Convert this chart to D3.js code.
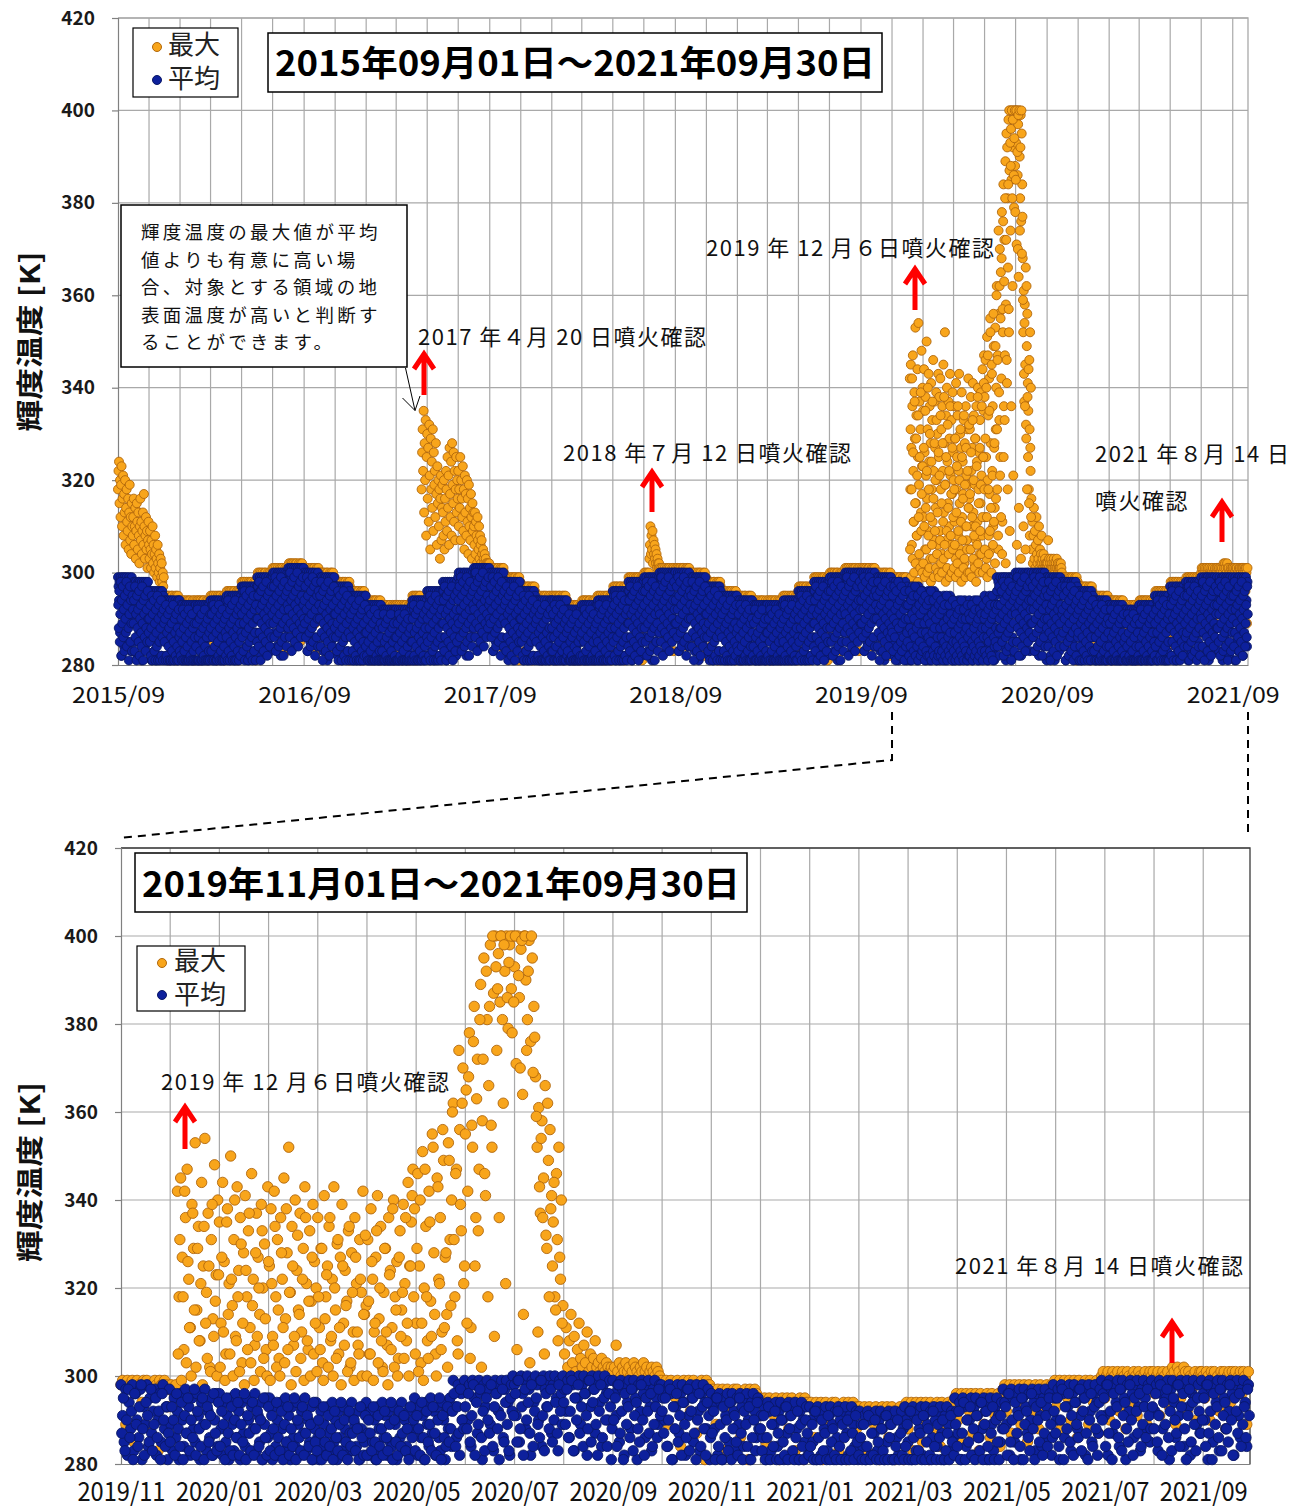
<!DOCTYPE html>
<html lang="ja">
<head>
<meta charset="utf-8">
<title>輝度温度</title>
<script src="https://cdn.jsdelivr.net/npm/d3@7"></script>
<style>
  body { margin: 0; background: #fff; }
  svg text { font-family: "Noto Sans CJK JP", sans-serif; }
</style>
</head>
<body>
<svg id="chart" width="1293" height="1508"></svg>
<script>
// 平均 (mean brightness temperature, K), first reading of each day – one line per month
const avg2015 = [
  299,297,294,298,287,299,296,282,298,299,291,297,284,299,295,298,289,299,297,293,285,298,299,296,290,298,283,299,297,292,
  297,298,294,285,296,298,291,297,282,295,298,296,287,298,293,297,281,298,295,289,297,298,292,284,296,298,297,286,294,298,290,
  296,293,295,287,296,281,294,296,290,295,283,296,292,294,281,296,295,288,293,296,285,295,291,296,282,294,296,289,295,286,
  294,292,289,293,282,294,291,281,293,294,286,292,281,294,290,293,284,294,292,288,281,293,294,291,285,293,281,294,292,287,294
];
const avg2016 = [
  292,293,289,281,291,293,286,292,281,290,293,291,282,293,288,292,281,293,290,284,292,293,287,281,291,293,292,281,289,293,285,
  293,290,292,284,293,281,291,293,287,292,281,293,289,291,281,293,292,285,290,293,282,292,288,293,281,291,293,286,292,
  294,292,289,293,282,294,291,281,293,294,286,292,281,294,290,293,284,294,292,288,281,293,294,291,285,293,281,294,292,287,294,
  294,295,291,282,293,295,288,294,281,292,295,293,284,295,290,294,281,295,292,286,294,295,289,281,293,295,294,283,291,295,
  297,294,296,288,297,282,295,297,291,296,284,297,293,295,281,297,296,289,294,297,286,296,292,297,283,295,297,290,296,287,297,
  299,297,294,298,287,299,296,282,298,299,291,297,284,299,295,298,289,299,297,293,285,298,299,296,290,298,283,299,297,292,
  299,300,296,287,298,300,293,299,284,297,300,298,289,300,295,299,282,300,297,291,299,300,294,286,298,300,299,288,296,300,292,
  301,298,300,292,301,286,299,301,295,300,288,301,297,299,284,301,300,293,298,301,290,300,296,301,287,299,301,294,300,291,301,
  300,298,295,299,288,300,297,283,299,300,292,298,285,300,296,299,290,300,298,294,286,299,300,297,291,299,284,300,298,293,
  298,299,295,286,297,299,292,298,283,296,299,297,288,299,294,298,281,299,296,290,298,299,293,285,297,299,298,287,295,299,291,
  297,294,296,288,297,282,295,297,291,296,284,297,293,295,281,297,296,289,294,297,286,296,292,297,283,295,297,290,296,287,
  295,293,290,294,283,295,292,281,294,295,287,293,281,295,291,294,285,295,293,289,281,294,295,292,286,294,281,295,293,288,295
];
const avg2017 = [
  292,293,289,281,291,293,286,292,281,290,293,291,282,293,288,292,281,293,290,284,292,293,287,281,291,293,292,281,289,293,285,
  292,289,291,283,292,281,290,292,286,291,281,292,288,290,281,292,291,284,289,292,281,291,287,292,281,290,292,285,
  292,290,287,291,281,292,289,281,291,292,284,290,281,292,288,291,282,292,290,286,281,291,292,289,283,291,281,292,290,285,292,
  293,294,290,281,292,294,287,293,281,291,294,292,283,294,289,293,281,294,291,285,293,294,288,281,292,294,293,282,290,294,
  296,293,295,287,296,281,294,296,290,295,283,296,292,294,281,296,295,288,293,296,285,295,291,296,282,294,296,289,295,286,296,
  298,296,293,297,286,298,295,281,297,298,290,296,283,298,294,297,288,298,296,292,284,297,298,295,289,297,282,298,296,291,
  299,300,296,287,298,300,293,299,284,297,300,298,289,300,295,299,282,300,297,291,299,300,294,286,298,300,299,288,296,300,292,
  301,298,300,292,301,286,299,301,295,300,288,301,297,299,284,301,300,293,298,301,290,300,296,301,287,299,301,294,300,291,301,
  300,298,295,299,288,300,297,283,299,300,292,298,285,300,296,299,290,300,298,294,286,299,300,297,291,299,284,300,298,293,
  297,298,294,285,296,298,291,297,282,295,298,296,287,298,293,297,281,298,295,289,297,298,292,284,296,298,297,286,294,298,290,
  296,293,295,287,296,281,294,296,290,295,283,296,292,294,281,296,295,288,293,296,285,295,291,296,282,294,296,289,295,286,
  294,292,289,293,282,294,291,281,293,294,286,292,281,294,290,293,284,294,292,288,281,293,294,291,285,293,281,294,292,287,294
];
const avg2018 = [
  293,294,290,281,292,294,287,293,281,291,294,292,283,294,289,293,281,294,291,285,293,294,288,281,292,294,293,282,290,294,286,
  292,289,291,283,292,281,290,292,286,291,281,292,288,290,281,292,291,284,289,292,281,291,287,292,281,290,292,285,
  293,291,288,292,281,293,290,281,292,293,285,291,281,293,289,292,283,293,291,287,281,292,293,290,284,292,281,293,291,286,293,
  293,294,290,281,292,294,287,293,281,291,294,292,283,294,289,293,281,294,291,285,293,294,288,281,292,294,293,282,290,294,
  296,293,295,287,296,281,294,296,290,295,283,296,292,294,281,296,295,288,293,296,285,295,291,296,282,294,296,289,295,286,296,
  298,296,293,297,286,298,295,281,297,298,290,296,283,298,294,297,288,298,296,292,284,297,298,295,289,297,282,298,296,291,
  298,299,295,286,297,299,292,298,283,296,299,297,288,299,294,298,281,299,296,290,298,299,293,285,297,299,298,287,295,299,291,
  300,297,299,291,300,285,298,300,294,299,287,300,296,298,283,300,299,292,297,300,289,299,295,300,286,298,300,293,299,290,300,
  300,298,295,299,288,300,297,283,299,300,292,298,285,300,296,299,290,300,298,294,286,299,300,297,291,299,284,300,298,293,
  298,299,295,286,297,299,292,298,283,296,299,297,288,299,294,298,281,299,296,290,298,299,293,285,297,299,298,287,295,299,291,
  297,294,296,288,297,282,295,297,291,296,284,297,293,295,281,297,296,289,294,297,286,296,292,297,283,295,297,290,296,287,
  295,293,290,294,283,295,292,281,294,295,287,293,281,295,291,294,285,295,293,289,281,294,295,292,286,294,281,295,293,288,295
];
const avg2019 = [
  293,294,290,281,292,294,287,293,281,291,294,292,283,294,289,293,281,294,291,285,293,294,288,281,292,294,293,282,290,294,286,
  293,290,292,284,293,281,291,293,287,292,281,293,289,291,281,293,292,285,290,293,282,292,288,293,281,291,293,286,
  293,291,288,292,281,293,290,281,292,293,285,291,281,293,289,292,283,293,291,287,281,292,293,290,284,292,281,293,291,286,293,
  293,294,290,281,292,294,287,293,281,291,294,292,283,294,289,293,281,294,291,285,293,294,288,281,292,294,293,282,290,294,
  296,293,295,287,296,281,294,296,290,295,283,296,292,294,281,296,295,288,293,296,285,295,291,296,282,294,296,289,295,286,296,
  298,296,293,297,286,298,295,281,297,298,290,296,283,298,294,297,288,298,296,292,284,297,298,295,289,297,282,298,296,291,
  298,299,295,286,297,299,292,298,283,296,299,297,288,299,294,298,281,299,296,290,298,299,293,285,297,299,298,287,295,299,291,
  300,297,299,291,300,285,298,300,294,299,287,300,296,298,283,300,299,292,297,300,289,299,295,300,286,298,300,293,299,290,300,
  300,298,295,299,288,300,297,283,299,300,292,298,285,300,296,299,290,300,298,294,286,299,300,297,291,299,284,300,298,293,
  298,299,295,286,297,299,292,298,283,296,299,297,288,299,294,298,281,299,296,290,298,299,293,285,297,299,298,287,295,299,291,
  298,291,285,297,282,294,288,298,283,296,290,286,297,281,293,289,298,284,295,287,292,297,282,290,296,285,298,288,293,281,
  297,289,283,295,286,292,281,296,290,284,297,287,293,282,295,288,285,296,291,281,294,289,297,283,292,286,295,282,290,296,284
];
const avg2020 = [
  296,288,282,294,285,291,281,295,289,283,296,286,292,281,294,287,284,295,290,282,293,288,296,283,291,285,294,281,289,295,286,
  295,287,281,293,284,290,282,294,288,283,295,285,291,281,293,286,284,294,289,282,292,287,295,283,290,285,293,281,288,
  294,286,281,292,284,289,282,293,287,283,294,285,290,281,292,286,283,293,288,282,291,287,294,283,289,284,292,281,288,293,285,
  294,287,282,292,285,290,281,293,288,283,294,286,291,282,292,285,284,293,289,281,291,286,294,283,290,284,292,282,288,293,
  295,288,282,293,286,291,281,294,289,284,295,287,292,282,293,286,283,294,290,281,292,288,295,284,299,293,286,298,282,296,290,
  299,297,290,298,284,299,295,298,287,299,296,281,298,293,299,297,289,298,283,299,296,292,298,299,286,297,299,294,282,298,
  300,298,291,299,285,300,296,299,288,300,297,282,299,294,300,298,290,299,284,300,297,293,299,300,287,298,300,295,283,299,296,
  300,297,292,299,286,300,298,283,299,295,300,289,298,300,296,282,299,293,300,297,287,299,300,294,284,298,300,296,290,299,281,
  299,296,291,298,285,299,297,282,298,294,299,288,297,299,295,281,298,292,299,296,286,298,299,293,283,297,299,295,289,298,
  298,295,290,297,284,298,296,281,297,293,298,287,296,298,294,282,297,291,298,295,285,297,298,292,283,296,298,294,288,297,281,
  296,293,288,295,282,296,294,281,295,291,296,285,294,296,292,283,295,289,296,293,284,295,296,290,281,294,296,292,286,295,
  294,291,286,293,281,294,292,283,293,289,294,284,292,294,290,281,293,287,294,291,282,293,294,288,281,292,294,290,285,293,282
];
const avg2021 = [
  293,290,285,292,281,293,291,282,292,288,293,283,291,293,289,281,292,286,293,290,281,292,293,287,282,291,293,289,284,292,281,
  292,289,284,291,281,292,290,282,291,287,292,283,290,292,288,281,291,285,292,289,281,291,292,286,282,290,292,288,
  293,290,285,292,281,293,291,283,292,288,293,282,291,293,289,281,292,286,293,290,284,292,293,287,281,291,293,289,283,292,286,
  295,292,287,294,281,295,293,284,294,290,295,282,293,295,291,286,294,288,295,292,281,294,295,289,283,293,295,291,285,294,
  297,294,289,296,282,297,295,285,296,292,297,281,295,297,293,287,296,290,297,294,283,296,297,291,284,295,297,293,286,296,282,
  298,295,290,297,281,298,296,286,297,293,298,283,296,298,294,288,297,291,298,295,282,297,298,292,285,296,298,294,287,297,
  299,296,291,298,282,299,297,287,298,294,299,284,297,299,295,281,298,292,299,296,286,298,299,293,283,297,299,295,288,298,285,
  299,297,292,298,283,299,296,288,298,295,299,281,297,299,294,286,298,291,299,297,284,298,299,293,282,296,299,295,289,298,287,
  299,296,290,298,281,299,297,285,298,294,299,283,297,299,295,288,298,292,299,296,282,298,299,291,286,297,299,294,284,298
];

// 平均, second (midday) reading of each day
const avgNoon2015 = [
  293,288,296,285,291,298,282,294,289,297,286,292,283,295,290,287,298,284,293,296,288,281,291,297,285,294,289,283,295,292,
  289,294,283,297,286,291,281,295,288,292,285,296,282,290,293,287,284,297,289,281,294,291,286,295,283,288,292,285,296,290,287,
  290,285,293,282,288,295,281,291,286,294,283,289,281,292,287,284,295,281,290,293,285,281,288,294,282,291,286,281,292,289,
  285,290,281,293,282,287,281,291,284,288,281,292,281,286,289,283,281,293,285,281,290,287,282,291,281,284,288,281,292,286,283
];
const avgNoon2016 = [
  287,282,290,281,285,292,281,288,283,291,281,286,281,289,284,281,292,281,287,290,282,281,285,291,281,288,283,281,289,286,281,
  284,289,281,292,281,286,281,290,283,287,281,291,281,285,288,282,281,292,284,281,289,286,281,290,281,283,287,281,291,
  288,283,291,281,286,293,281,289,284,292,281,287,281,290,285,282,293,281,288,291,283,281,286,292,281,289,284,281,290,287,282,
  286,291,281,294,283,288,281,292,285,289,282,293,281,287,290,284,281,294,286,281,291,288,283,292,281,285,289,282,293,287,
  291,286,294,283,289,296,281,292,287,295,284,290,281,293,288,285,296,282,291,294,286,281,289,295,283,292,287,281,293,290,285,
  290,295,284,298,287,292,281,296,289,293,286,297,283,291,294,288,285,298,290,282,295,292,287,296,284,289,293,286,297,291,
  294,289,297,286,292,299,283,295,290,298,287,293,284,296,291,288,299,285,294,297,289,282,292,298,286,295,290,284,296,293,288,
  292,297,286,300,289,294,283,298,291,295,288,299,285,293,296,290,287,300,292,284,297,294,289,298,286,291,295,288,299,293,290,
  294,289,297,286,292,299,283,295,290,298,287,293,284,296,291,288,299,285,294,297,289,282,292,298,286,295,290,284,296,293,
  290,295,284,298,287,292,281,296,289,293,286,297,283,291,294,288,285,298,290,282,295,292,287,296,284,289,293,286,297,291,288,
  291,286,294,283,289,296,281,292,287,295,284,290,281,293,288,285,296,282,291,294,286,281,289,295,283,292,287,281,293,290,
  286,291,281,294,283,288,281,292,285,289,282,293,281,287,290,284,281,294,286,281,291,288,283,292,281,285,289,282,293,287,284
];
const avgNoon2017 = [
  287,282,290,281,285,292,281,288,283,291,281,286,281,289,284,281,292,281,287,290,282,281,285,291,281,288,283,281,289,286,281,
  283,288,281,291,281,285,281,289,282,286,281,290,281,284,287,281,281,291,283,281,288,285,281,289,281,282,286,281,
  286,281,289,281,284,291,281,287,282,290,281,285,281,288,283,281,291,281,286,289,281,281,284,290,281,287,282,281,288,285,281,
  285,290,281,293,282,287,281,291,284,288,281,292,281,286,289,283,281,293,285,281,290,287,282,291,281,284,288,281,292,286,
  290,285,293,282,288,295,281,291,286,294,283,289,281,292,287,284,295,281,290,293,285,281,288,294,282,291,286,281,292,289,284,
  289,294,283,297,286,291,281,295,288,292,285,296,282,290,293,287,284,297,289,281,294,291,286,295,283,288,292,285,296,290,
  294,289,297,286,292,299,283,295,290,298,287,293,284,296,291,288,299,285,294,297,289,282,292,298,286,295,290,284,296,293,288,
  292,297,286,300,289,294,283,298,291,295,288,299,285,293,296,290,287,300,292,284,297,294,289,298,286,291,295,288,299,293,290,
  294,289,297,286,292,299,283,295,290,298,287,293,284,296,291,288,299,285,294,297,289,282,292,298,286,295,290,284,296,293,
  289,294,283,297,286,291,281,295,288,292,285,296,282,290,293,287,284,297,289,281,294,291,286,295,283,288,292,285,296,290,287,
  290,285,293,282,288,295,281,291,286,294,283,289,281,292,287,284,295,281,290,293,285,281,288,294,282,291,286,281,292,289,
  285,290,281,293,282,287,281,291,284,288,281,292,281,286,289,283,281,293,285,281,290,287,282,291,281,284,288,281,292,286,283
];
const avgNoon2018 = [
  288,283,291,281,286,293,281,289,284,292,281,287,281,290,285,282,293,281,288,291,283,281,286,292,281,289,284,281,290,287,282,
  283,288,281,291,281,285,281,289,282,286,281,290,281,284,287,281,281,291,283,281,288,285,281,289,281,282,286,281,
  287,282,290,281,285,292,281,288,283,291,281,286,281,289,284,281,292,281,287,290,282,281,285,291,281,288,283,281,289,286,281,
  285,290,281,293,282,287,281,291,284,288,281,292,281,286,289,283,281,293,285,281,290,287,282,291,281,284,288,281,292,286,
  290,285,293,282,288,295,281,291,286,294,283,289,281,292,287,284,295,281,290,293,285,281,288,294,282,291,286,281,292,289,284,
  289,294,283,297,286,291,281,295,288,292,285,296,282,290,293,287,284,297,289,281,294,291,286,295,283,288,292,285,296,290,
  293,288,296,285,291,298,282,294,289,297,286,292,283,295,290,287,298,284,293,296,288,281,291,297,285,294,289,283,295,292,287,
  291,296,285,299,288,293,282,297,290,294,287,298,284,292,295,289,286,299,291,283,296,293,288,297,285,290,294,287,298,292,289,
  294,289,297,286,292,299,283,295,290,298,287,293,284,296,291,288,299,285,294,297,289,282,292,298,286,295,290,284,296,293,
  290,295,284,298,287,292,281,296,289,293,286,297,283,291,294,288,285,298,290,282,295,292,287,296,284,289,293,286,297,291,288,
  291,286,294,283,289,296,281,292,287,295,284,290,281,293,288,285,296,282,291,294,286,281,289,295,283,292,287,281,293,290,
  286,291,281,294,283,288,281,292,285,289,282,293,281,287,290,284,281,294,286,281,291,288,283,292,281,285,289,282,293,287,284
];
const avgNoon2019 = [
  288,283,291,281,286,293,281,289,284,292,281,287,281,290,285,282,293,281,288,291,283,281,286,292,281,289,284,281,290,287,282,
  284,289,281,292,281,286,281,290,283,287,281,291,281,285,288,282,281,292,284,281,289,286,281,290,281,283,287,281,
  287,282,290,281,285,292,281,288,283,291,281,286,281,289,284,281,292,281,287,290,282,281,285,291,281,288,283,281,289,286,281,
  285,290,281,293,282,287,281,291,284,288,281,292,281,286,289,283,281,293,285,281,290,287,282,291,281,284,288,281,292,286,
  290,285,293,282,288,295,281,291,286,294,283,289,281,292,287,284,295,281,290,293,285,281,288,294,282,291,286,281,292,289,284,
  289,294,283,297,286,291,281,295,288,292,285,296,282,290,293,287,284,297,289,281,294,291,286,295,283,288,292,285,296,290,
  293,288,296,285,291,298,282,294,289,297,286,292,283,295,290,287,298,284,293,296,288,281,291,297,285,294,289,283,295,292,287,
  291,296,285,299,288,293,282,297,290,294,287,298,284,292,295,289,286,299,291,283,296,293,288,297,285,290,294,287,298,292,289,
  294,289,297,286,292,299,283,295,290,298,287,293,284,296,291,288,299,285,294,297,289,282,292,298,286,295,290,284,296,293,
  290,295,284,298,287,292,281,296,289,293,286,297,283,291,294,288,285,298,290,282,295,292,287,296,284,289,293,286,297,291,288,
  287,295,283,290,297,286,292,281,296,289,284,293,298,288,282,294,291,285,297,283,289,295,286,292,281,296,290,284,293,287,
  285,293,290,282,296,288,284,294,281,291,287,295,283,290,286,297,282,292,288,284,295,281,289,293,285,291,282,296,287,283,294
];
const avgNoon2020 = [
  284,292,289,281,295,287,283,293,282,290,286,294,282,289,285,296,281,291,287,283,294,282,288,292,284,290,281,295,286,282,293,
  283,291,288,282,294,286,283,292,281,289,285,293,282,288,284,295,281,290,286,283,293,282,287,291,284,289,281,294,285,
  283,290,287,281,293,285,282,291,284,288,281,292,286,283,289,294,282,290,285,281,292,284,287,290,283,288,281,293,286,282,291,
  282,290,287,283,293,285,281,291,284,288,282,292,286,283,289,294,281,290,285,282,292,284,287,291,283,288,281,293,286,290,
  283,291,288,282,294,286,281,292,285,289,283,293,287,282,290,295,281,291,286,284,293,285,288,292,296,284,293,287,297,290,288,
  293,288,296,285,291,298,282,294,289,297,286,292,283,295,290,287,298,284,293,296,288,281,291,297,285,294,289,283,295,292,
  291,296,285,299,288,293,282,297,290,294,287,298,284,292,295,289,286,299,291,283,296,293,288,297,285,290,294,287,298,292,289,
  294,289,297,286,292,299,283,295,290,298,287,293,284,296,291,288,299,285,294,297,289,282,292,298,286,295,290,284,296,293,288,
  290,295,284,298,287,292,281,296,289,293,286,297,283,291,294,288,285,298,290,282,295,292,287,296,284,289,293,286,297,291,
  292,287,295,284,290,297,281,293,288,296,285,291,282,294,289,286,297,283,292,295,287,281,290,296,284,293,288,282,294,291,286,
  287,292,281,295,284,289,281,293,286,290,283,294,281,288,291,285,282,295,287,281,292,289,284,293,281,286,290,283,294,288,
  288,283,291,281,286,293,281,289,284,292,281,287,281,290,285,282,293,281,288,291,283,281,286,292,281,289,284,281,290,287,282
];
const avgNoon2021 = [
  284,289,281,292,281,286,281,290,283,287,281,291,281,285,288,282,281,292,284,281,289,286,281,290,281,283,287,281,291,285,282,
  286,281,289,281,284,291,281,287,282,290,281,285,281,288,283,281,291,281,286,289,281,281,284,290,281,287,282,281,
  284,289,281,292,281,286,281,290,283,287,281,291,281,285,288,282,281,292,284,281,289,286,281,290,281,283,287,281,291,285,282,
  289,284,292,281,287,294,281,290,285,293,282,288,281,291,286,283,294,281,289,292,284,281,287,293,281,290,285,281,291,288,
  288,293,282,296,285,290,281,294,287,291,284,295,281,289,292,286,283,296,288,281,293,290,285,294,282,287,291,284,295,289,286,
  292,287,295,284,290,297,281,293,288,296,285,291,282,294,289,286,297,283,292,295,287,281,290,296,284,293,288,282,294,291,
  290,295,284,298,287,292,281,296,289,293,286,297,283,291,294,288,285,298,290,282,295,292,287,296,284,289,293,286,297,291,288,
  293,288,296,285,291,298,282,294,289,297,286,292,283,295,290,287,298,284,293,296,288,281,291,297,285,294,289,283,295,292,287,
  290,295,284,298,287,292,281,296,289,293,286,297,283,291,294,288,285,298,290,282,295,292,287,296,284,289,293,286,297,291
];

// 最大 (maximum brightness temperature, K), one reading per day
const max2015 = [
  318,322,324,315,320,312,319,323,310,316,321,308,317,313,320,306,314,318,311,309,316,305,313,319,307,312,304,315,310,308,
  312,316,306,310,314,303,309,315,311,305,313,308,302,310,316,307,311,304,309,313,306,317,310,303,308,312,305,309,301,307,311,
  306,303,309,305,301,307,304,310,302,306,300,304,308,301,305,303,299,306,302,300,304,298,301,303,299,302,298,300,297,299,
  294,295,294,287,295,294,294,295,281,294,295,294,294,290,295,294,295,294,284,294,294,295,294,281,295,294,294,295,294,289,294
];
const max2016 = [
  294,293,293,294,284,293,294,293,293,290,294,293,281,293,294,293,293,294,287,293,294,293,282,293,293,294,293,281,294,293,293,
  293,294,293,286,294,293,293,294,281,293,294,293,293,289,294,293,294,293,283,293,293,294,293,281,294,293,293,294,293,
  295,294,294,295,285,294,295,294,294,291,295,294,281,294,295,294,294,295,288,294,295,294,283,294,294,295,294,281,295,294,294,
  295,296,295,288,296,295,295,296,282,295,296,295,295,291,296,295,296,295,285,295,295,296,295,281,296,295,295,296,295,290,
  298,297,297,298,288,297,298,297,297,294,298,297,283,297,298,297,297,298,291,297,298,297,286,297,297,298,297,281,298,297,297,
  299,300,299,292,300,299,299,300,286,299,300,299,299,295,300,299,300,299,289,299,299,300,299,283,300,299,299,300,299,294,
  301,300,300,301,291,300,301,300,300,297,301,300,286,300,301,300,300,301,294,300,301,300,289,300,300,301,300,283,301,300,300,
  301,302,301,294,302,301,301,302,288,301,302,301,301,297,302,301,302,301,291,301,301,302,301,285,302,301,301,302,301,296,301,
  301,300,300,301,291,300,301,300,300,297,301,300,286,300,301,300,300,301,294,300,301,300,289,300,300,301,300,283,301,300,
  299,300,299,292,300,299,299,300,286,299,300,299,299,295,300,299,300,299,289,299,299,300,299,283,300,299,299,300,299,294,299,
  298,297,297,298,288,297,298,297,297,294,298,297,283,297,298,297,297,298,291,297,298,297,286,297,297,298,297,281,298,297,
  295,296,295,288,296,295,295,296,282,295,296,295,295,291,296,295,296,295,285,295,295,296,295,281,296,295,295,296,295,290,295
];
const max2017 = [
  294,293,293,294,284,293,294,293,293,290,294,293,281,293,294,293,293,294,287,293,294,293,282,293,293,294,293,281,294,293,293,
  292,293,292,285,293,292,292,293,281,292,293,292,292,288,293,292,293,292,282,292,292,293,292,281,293,292,292,293,
  293,292,292,293,283,292,293,292,292,289,293,292,281,292,293,292,292,293,286,292,293,292,281,292,292,293,292,281,293,292,292,
  294,295,294,287,295,294,294,295,281,294,295,294,294,290,295,294,295,294,284,318,326,331,322,335,313,328,320,333,308,325,
  330,316,327,311,332,321,305,329,318,324,314,331,309,326,319,322,312,328,317,306,323,315,320,310,318,303,316,321,307,314,319,
  313,308,320,305,316,311,322,318,309,325,314,321,306,327,317,312,324,308,328,319,315,326,311,322,307,318,325,313,320,316,
  322,310,318,314,325,307,320,316,312,323,309,318,305,321,313,317,308,320,311,316,304,319,310,314,307,317,312,303,315,309,313,
  310,306,313,304,311,308,302,312,307,305,310,303,308,306,302,307,304,301,305,303,302,304,301,303,302,301,302,301,302,301,302,
  300,301,300,293,301,300,300,301,287,300,301,300,300,296,301,300,301,300,290,300,300,301,300,284,301,300,300,301,300,295,
  299,298,298,299,289,298,299,298,298,295,299,298,284,298,299,298,298,299,292,298,299,298,287,298,298,299,298,281,299,298,298,
  296,297,296,289,297,296,296,297,283,296,297,296,296,292,297,296,297,296,286,296,296,297,296,281,297,296,296,297,296,291,
  295,294,294,295,285,294,295,294,294,291,295,294,281,294,295,294,294,295,288,294,295,294,283,294,294,295,294,281,295,294,294
];
const max2018 = [
  294,295,294,287,295,294,294,295,281,294,295,294,294,290,295,294,295,294,284,294,294,295,294,281,295,294,294,295,294,289,294,
  293,292,292,293,283,292,293,292,292,289,293,292,281,292,293,292,292,293,286,292,293,292,281,292,292,293,292,281,
  293,294,293,286,294,293,293,294,281,293,294,293,293,289,294,293,294,293,283,293,293,294,293,281,294,293,293,294,293,288,293,
  295,294,294,295,285,294,295,294,294,291,295,294,281,294,295,294,294,295,288,294,295,294,283,294,294,295,294,281,295,294,
  296,297,296,289,297,296,296,297,283,296,297,296,296,292,297,296,297,296,286,296,296,297,296,281,297,296,296,297,296,291,296,
  299,298,298,299,289,298,299,298,298,295,299,298,284,298,299,298,298,299,292,298,299,298,287,298,298,299,298,281,299,298,
  299,300,299,292,300,299,299,300,286,299,300,303,306,310,304,308,305,309,302,307,304,306,303,305,302,304,301,303,302,301,302,
  301,300,300,301,291,300,301,300,300,297,301,300,286,300,301,300,300,301,294,300,301,300,289,300,300,301,300,283,301,300,300,
  300,301,300,293,301,300,300,301,287,300,301,300,300,296,301,300,301,300,290,300,300,301,300,284,301,300,300,301,300,295,
  300,299,299,300,290,299,300,299,299,296,300,299,285,299,300,299,299,300,293,299,300,299,288,299,299,300,299,282,300,299,299,
  297,298,297,290,298,297,297,298,284,297,298,297,297,293,298,297,298,297,287,297,297,298,297,281,298,297,297,298,297,292,
  296,295,295,296,286,295,296,295,295,292,296,295,281,295,296,295,295,296,289,295,296,295,284,295,295,296,295,281,296,295,295
];
const max2019 = [
  294,295,294,287,295,294,294,295,281,294,295,294,294,290,295,294,295,294,284,294,294,295,294,281,295,294,294,295,294,289,294,
  294,293,293,294,284,293,294,293,293,290,294,293,281,293,294,293,293,294,287,293,294,293,282,293,293,294,293,281,
  293,294,293,286,294,293,293,294,281,293,294,293,293,289,294,293,294,293,283,293,293,294,293,281,294,293,293,294,293,288,293,
  295,294,294,295,285,294,295,294,294,291,295,294,281,294,295,294,294,295,288,294,295,294,283,294,294,295,294,281,295,294,
  296,297,296,289,297,296,296,297,283,296,297,296,296,292,297,296,297,296,286,296,296,297,296,281,297,296,296,297,296,291,296,
  299,298,298,299,289,298,299,298,298,295,299,298,284,298,299,298,298,299,292,298,299,298,287,298,298,299,298,281,299,298,
  299,300,299,292,300,299,299,300,286,299,300,299,299,295,300,299,300,299,289,299,299,300,299,283,300,299,299,300,299,294,299,
  301,300,300,301,291,300,301,300,300,297,301,300,286,300,301,300,300,301,294,300,301,300,289,300,300,301,300,283,301,300,300,
  300,301,300,293,301,300,300,301,287,300,301,300,300,296,301,300,301,300,290,300,300,301,300,284,301,300,300,301,300,295,
  300,299,299,300,290,299,300,299,299,296,300,299,285,299,300,299,299,300,293,299,300,299,288,299,299,300,299,282,300,299,299,
  298,299,298,289,299,298,298,299,285,298,299,298,298,294,299,298,299,298,288,298,298,299,298,283,299,298,298,299,298,293,
  297,298,297,296,298,342,318,345,327,306,336,347,322,311,339,329,353,315,334,308,344,325,354,319,337,302,331,313,348,323,340
];
const max2020 = [
  335,312,344,326,305,338,321,350,316,331,309,343,324,336,303,328,341,318,333,311,346,322,307,337,327,314,339,320,330,306,343,
  325,338,309,342,318,331,304,336,322,345,313,328,352,319,334,307,340,324,315,337,310,329,343,321,306,333,317,339,326,
  320,336,311,329,303,341,318,325,334,308,322,343,315,330,305,327,339,312,324,317,333,302,328,310,336,321,307,331,319,342,314,
  316,331,305,338,322,310,327,341,313,334,302,319,329,307,336,324,311,340,318,326,304,333,315,339,321,308,344,325,335,347,
  338,312,346,325,303,351,320,334,308,342,317,355,328,305,345,322,336,310,349,327,314,353,331,340,362,318,347,305,356,333,370,
  325,365,342,378,311,352,384,336,372,347,389,358,395,341,381,366,398,352,387,400,374,396,385,400,362,392,400,379,398,388,
  400,393,371,400,386,397,364,400,390,381,399,376,395,384,368,352,361,337,358,345,366,329,349,356,341,335,318,346,308,327,340,
  316,305,311,302,308,314,303,309,301,306,312,304,302,307,303,310,301,305,302,304,308,302,303,301,304,302,301,303,302,301,302,
  301,302,307,301,303,300,302,301,303,301,302,300,301,303,302,301,300,302,301,303,301,302,300,301,302,301,300,302,301,300,
  299,298,298,299,289,298,299,298,298,295,299,298,284,298,299,298,298,299,292,298,299,298,287,298,298,299,298,281,299,298,298,
  296,297,296,289,297,296,296,297,283,296,297,296,296,292,297,296,297,296,286,296,296,297,296,281,297,296,296,297,296,291,
  295,294,294,295,285,294,295,294,294,291,295,294,281,294,295,294,294,295,288,294,295,294,283,294,294,295,294,281,295,294,294
];
const max2021 = [
  293,294,293,286,294,293,293,294,281,293,294,293,293,289,294,293,294,293,283,293,293,294,293,281,294,293,293,294,293,288,293,
  293,292,292,293,283,292,293,292,292,289,293,292,281,292,293,292,292,293,286,292,293,292,281,292,292,293,292,281,
  293,294,288,293,294,283,293,294,293,290,294,285,293,294,293,281,294,293,287,293,294,293,284,294,293,289,293,294,282,293,294,
  295,296,290,295,296,285,295,296,295,292,296,287,295,296,295,283,296,295,289,295,296,295,286,296,295,291,295,296,284,295,
  297,298,292,297,298,287,297,298,297,294,298,289,297,298,297,285,298,297,291,297,298,297,288,298,297,293,297,298,286,297,298,
  298,299,293,298,299,288,298,299,298,295,299,290,298,299,298,286,299,298,292,298,299,298,289,299,298,294,298,299,287,298,
  300,301,295,300,301,290,300,301,300,297,301,292,300,301,300,288,301,300,294,300,301,300,291,301,300,296,300,301,289,300,301,
  300,301,296,300,301,291,300,301,300,297,301,293,300,302,301,289,302,301,295,300,302,301,292,301,300,297,300,301,290,300,301,
  301,300,295,301,300,290,301,300,301,296,300,292,301,300,301,288,300,301,294,301,300,301,291,300,301,296,301,300,289,301
];
// 最大, second (midday) reading during the 2019-12-06 .. 2020-07-31 eruption
const maxNoon = [
  305,331,299,318,342,303,326,311,300,337,315,302,329,308,321,298,334,312,304,325,301,339,309,317,300,323,
  302,327,310,299,335,314,305,322,300,340,308,318,301,330,312,298,324,306,337,303,316,299,328,309,320,301,333,304,313,300,326,
  299,321,307,334,302,315,300,328,311,303,338,306,319,298,325,309,301,332,314,304,322,299,336,308,317,300,327,305,312,
  301,318,306,329,299,313,323,302,336,309,300,320,304,331,311,298,325,307,316,301,334,303,319,299,327,310,305,322,300,314,332,
  300,317,305,326,299,312,333,303,320,308,301,329,310,298,323,306,338,302,315,300,327,309,319,304,336,312,300,325,341,318,
  305,329,301,340,312,299,347,318,304,335,309,352,314,300,343,321,306,356,311,328,302,349,316,360,331,346,308,374,339,362,321,
  355,312,368,304,357,376,325,363,333,381,302,372,346,392,318,384,357,400,309,393,388,336,400,381,398,321,386,394,400,378,
  385,400,306,391,370,399,314,400,374,392,303,400,369,377,359,310,343,354,336,305,332,362,318,338,325,344,315,331,352,322,312
];

const yearStarts = ["2015-09-01", "2016-01-01", "2017-01-01", "2018-01-01", "2019-01-01", "2020-01-01", "2021-01-01"];
const yTicks = [280, 300, 320, 340, 360, 380, 400, 420];
const legendNames = ["最大", "平均"];
const titles = ["2015年09月01日～2021年09月30日", "2019年11月01日～2021年09月30日"];
const noteLines = ["輝度温度の最大値が平均", "値よりも有意に高い場", "合、対象とする領域の地", "表面温度が高いと判断す", "ることができます。"];
const yLabel = "輝度温度 [K]";

const svg = d3.select("#chart");
const ORANGE = "#f8a51b", ORANGE_EDGE = "#b0670c";
const BLUE = "#0d209c", BLUE_EDGE = "#0a1766";
const GRID = "#a9a9a9";

const parseDay = d3.timeParse("%Y-%m-%d");
const toPoints = (start, values, hours = 0) => {
  const t0 = parseDay(start);
  return values.map((v, i) => ({ date: d3.timeHour.offset(d3.timeDay.offset(t0, i), hours), value: v }));
};
const byYear = (arrays, hours) => d3.merge(arrays.map((v, i) => toPoints(yearStarts[i], v, hours)));

const avgPoints = byYear([avg2015, avg2016, avg2017, avg2018, avg2019, avg2020, avg2021], 0)
  .concat(byYear([avgNoon2015, avgNoon2016, avgNoon2017, avgNoon2018, avgNoon2019, avgNoon2020, avgNoon2021], 12));
const maxPoints = byYear([max2015, max2016, max2017, max2018, max2019, max2020, max2021], 0)
  .concat(toPoints("2019-12-06", maxNoon, 12));

function drawPanel(p) {
  const x = d3.scaleTime().domain(p.domain).range([p.left, p.right]);
  const y = d3.scaleLinear().domain([280, 420]).range([p.bottom, p.top]);
  const g = svg.append("g");

  // grid
  g.append("g").selectAll("line").data(p.grid).join("line")
    .attr("x1", d => x(d)).attr("x2", d => x(d))
    .attr("y1", p.top).attr("y2", p.bottom)
    .attr("stroke", GRID).attr("stroke-width", 1.2);
  g.append("g").selectAll("line").data(yTicks.slice(1)).join("line")
    .attr("x1", p.left).attr("x2", p.right)
    .attr("y1", d => y(d)).attr("y2", d => y(d))
    .attr("stroke", GRID).attr("stroke-width", 1.2);
  g.append("path")
    .attr("d", `M${p.left},${p.top}H${p.right}V${p.bottom}`)
    .attr("fill", "none").attr("stroke", p.border).attr("stroke-width", 1.3);

  // axes
  const ya = g.append("g").attr("transform", `translate(${p.left},0)`)
    .call(d3.axisLeft(y).tickValues(yTicks).tickSize(6).tickPadding(17).tickFormat(d3.format("d")));
  ya.selectAll(".domain, .tick line").attr("stroke", "#808080").attr("stroke-width", 1.2);
  ya.selectAll("text")
    .attr("font-family", "DejaVu Sans").attr("font-weight", "bold")
    .attr("font-size", 19).attr("fill", "#1a1a1a");

  const xa = g.append("g").attr("transform", `translate(0,${p.bottom})`)
    .call(d3.axisBottom(x).tickValues(p.ticks).tickSize(0).tickPadding(p.labelPad)
      .tickFormat(d3.timeFormat("%Y/%m")));
  xa.selectAll(".domain").attr("stroke", "#808080").attr("stroke-width", 1.2);
  xa.selectAll("text")
    .attr("font-family", "DejaVu Sans").attr("font-size", p.labelSize).attr("fill", "#111")
    .attr("textLength", p.labelWidth).attr("lengthAdjust", "spacingAndGlyphs");

  // y label
  g.append("text")
    .attr("transform", `translate(28,${(p.top + p.bottom) / 2 + p.labelShift}) rotate(-90)`)
    .attr("text-anchor", "middle").attr("dominant-baseline", "central")
    .attr("font-weight", 700).attr("font-size", 27).attr("fill", "#111")
    .attr("textLength", 180).attr("lengthAdjust", "spacingAndGlyphs")
    .text(yLabel);

  // points: maximum first, mean drawn over it
  const inView = d => d.date >= p.domain[0] && d.date < p.domain[1];
  g.append("g").selectAll("circle").data(maxPoints.filter(inView)).join("circle")
    .attr("cx", d => x(d.date)).attr("cy", d => y(d.value)).attr("r", p.r)
    .attr("fill", ORANGE).attr("stroke", ORANGE_EDGE).attr("stroke-width", 0.9);
  g.append("g").selectAll("circle").data(avgPoints.filter(inView)).join("circle")
    .attr("cx", d => x(d.date)).attr("cy", d => y(d.value)).attr("r", p.r)
    .attr("fill", BLUE).attr("stroke", BLUE_EDGE).attr("stroke-width", 0.9);

  return { x, y, g };
}

function drawLegend(box, rows) {
  const lg = svg.append("g");
  lg.append("rect").attr("x", box[0]).attr("y", box[1]).attr("width", box[2]).attr("height", box[3])
    .attr("fill", "#fff").attr("stroke", "#000").attr("stroke-width", 1.2);
  legendNames.forEach((name, i) => {
    lg.append("circle").attr("cx", rows.dotX).attr("cy", rows.dotY[i]).attr("r", 4.5)
      .attr("fill", i === 0 ? ORANGE : BLUE).attr("stroke", i === 0 ? ORANGE_EDGE : BLUE_EDGE);
    lg.append("text").attr("x", rows.textX).attr("y", rows.baseY[i])
      .attr("font-size", 26).attr("fill", "#222").text(name);
  });
}

function drawTitle(box, text, baseline) {
  svg.append("rect").attr("x", box[0]).attr("y", box[1]).attr("width", box[2]).attr("height", box[3])
    .attr("fill", "#fff").attr("stroke", "#000").attr("stroke-width", 1.5);
  svg.append("text").attr("x", box[0] + 7).attr("y", baseline)
    .attr("font-weight", 700).attr("font-size", 35).attr("fill", "#000")
    .attr("textLength", box[2] - 14).attr("lengthAdjust", "spacingAndGlyphs")
    .text(text);
}

function redArrow(xp, tip, base) {
  svg.append("path")
    .attr("d", `M${xp},${base}V${tip + 3}M${xp - 10},${tip + 17}L${xp},${tip + 2}L${xp + 10},${tip + 17}`)
    .attr("fill", "none").attr("stroke", "#ff0000").attr("stroke-width", 5)
    .attr("stroke-linejoin", "miter");
}

function note(text, xp, baseline) {
  svg.append("text").attr("x", xp).attr("y", baseline)
    .attr("font-size", 22).attr("letter-spacing", 1.5).attr("fill", "#111")
    .text(text);
}

// ---- upper panel: whole period ----
const upStart = new Date(2015, 8, 1), upEnd = new Date(2021, 9, 1);
const upper = drawPanel({
  domain: [upStart, upEnd], left: 118, right: 1248, top: 18, bottom: 665,
  grid: d3.timeMonth.every(2).range(new Date(2015, 10, 1), upEnd),
  ticks: d3.range(2015, 2022).map(yr => new Date(yr, 8, 1)),
  labelPad: 22, labelSize: 22, labelWidth: 93, labelShift: 0,
  r: 4.5, border: GRID
});

// ---- lower panel: 2019/11 onward ----
const loStart = new Date(2019, 10, 1), loEnd = new Date(2021, 9, 1);
const lower = drawPanel({
  domain: [loStart, loEnd], left: 121, right: 1250, top: 848, bottom: 1464,
  grid: d3.range(1, 23).map(k => new Date(+loStart + k * 30.5 * 864e5)),
  ticks: d3.range(0, 12).map(k => d3.timeDay.offset(loStart, k * 61)),
  labelPad: 19, labelSize: 26, labelWidth: 88, labelShift: 16,
  r: 5.2, border: "#3a3a3a"
});

// zoom connectors
const zx1 = upper.x(loStart), zx2 = upper.x(loEnd);
svg.append("path")
  .attr("d", `M${zx1},712V760L120,838M${zx2},712V838`)
  .attr("fill", "none").attr("stroke", "#000").attr("stroke-width", 2)
  .attr("stroke-dasharray", "8,6");

// legends and titles
drawLegend([133, 28, 105, 69], { dotX: 157, dotY: [47, 80], textX: 168, baseY: [54, 88] });
drawLegend([137, 946, 108, 65], { dotX: 162, dotY: [963, 995], textX: 174, baseY: [970, 1004] });
drawTitle([268, 33, 614, 59], titles[0], 76);
drawTitle([135, 853, 612, 59], titles[1], 897);

// explanatory box
svg.append("rect").attr("x", 121).attr("y", 205).attr("width", 286).attr("height", 162)
  .attr("fill", "#fff").attr("stroke", "#000").attr("stroke-width", 1.5);
noteLines.forEach((line, i) => {
  svg.append("text").attr("x", 141).attr("y", [239, 266.5, 294, 321.5, 349][i])
    .attr("font-size", 18.5).attr("letter-spacing", 3.3).attr("fill", "#111").text(line);
});
svg.append("path")
  .attr("d", "M405.5,368L415,410.5M402.5,398L415,410.5L420,396")
  .attr("fill", "none").attr("stroke", "#000").attr("stroke-width", 1);

// eruption notes
note("2017 年４月 20 日噴火確認", 418, 345);
redArrow(424, 352, 395);
note("2018 年７月 12 日噴火確認", 563, 461);
redArrow(652, 470, 512);
note("2019 年 12 月６日噴火確認", 706, 256);
redArrow(915, 267, 310);
note("2021 年８月 14 日", 1095, 462);
note("噴火確認", 1095, 509);
redArrow(1222, 500, 542);
note("2019 年 12 月６日噴火確認", 161, 1090);
redArrow(185, 1105, 1149);
note("2021 年８月 14 日噴火確認", 955, 1274);
redArrow(1172, 1320, 1363);
</script>
</body>
</html>
